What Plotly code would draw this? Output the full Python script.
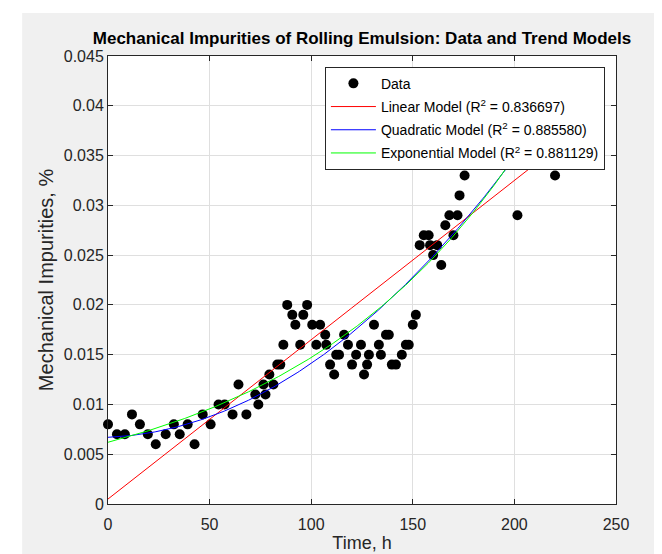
import numpy as np
import plotly.graph_objects as go

# ---- data ----
time_h = [0, 4.4, 8.3, 11.8, 15.7, 19.6, 23.5, 28.4, 32.4, 35.3, 39.2, 42.6, 46.6, 50.5,
          54.4, 57.4, 61.3, 64.2, 68.1, 72.5, 74, 76.5, 77.5, 79.4, 81.4, 83.3, 84.8,
          86.3, 88.2, 90.7, 92.2, 94.6, 96.1, 98, 100.5, 102.5, 104.4, 106.9, 107.4,
          109.3, 111.3, 112.3, 113.7, 116.2, 118.1, 120.1, 122.1, 124.5, 126, 127.5,
          128.4, 130.9, 133.3, 134.3, 136.8, 138.2, 139.7, 141.7, 144.6, 146.6, 148,
          150, 151.5, 153.4, 155.4, 157.8, 158.5, 160, 162, 164, 166, 168, 170, 172,
          173, 175.5, 201.5, 220]
impurities = [0.008, 0.007, 0.007, 0.009, 0.008, 0.007, 0.006, 0.007, 0.008, 0.007,
              0.008, 0.006, 0.009, 0.008, 0.010, 0.010, 0.009, 0.012, 0.009, 0.011,
              0.010, 0.012, 0.011, 0.013, 0.012, 0.014, 0.014, 0.016, 0.020, 0.019,
              0.018, 0.016, 0.019, 0.020, 0.018, 0.016, 0.018, 0.017, 0.016, 0.014,
              0.013, 0.015, 0.015, 0.017, 0.016, 0.014, 0.015, 0.016, 0.013, 0.014,
              0.015, 0.018, 0.016, 0.015, 0.017, 0.017, 0.014, 0.014, 0.015, 0.016,
              0.016, 0.018, 0.019, 0.026, 0.027, 0.027, 0.026, 0.025, 0.026, 0.024,
              0.028, 0.029, 0.027, 0.029, 0.031, 0.033, 0.029, 0.033]

# trend-model coefficients
linear_coef = [0.00016, 0.0005]                 # slope, intercept
quadratic_coef = [6.6e-7, 8.2e-6, 0.0067]       # a2, a1, a0
exponential_coef = [0.0062, 0.00864]            # A, k  in A*exp(k*t)

model_names = ["Linear Model (R<sup>2</sup> = 0.836697)",
               "Quadratic Model (R<sup>2</sup> = 0.885580)",
               "Exponential Model (R<sup>2</sup> = 0.881129)"]
model_colors = ["#ff0000", "#0000ff", "#00ff00"]

x_ticks = [0, 50, 100, 150, 200, 250]
y_ticks = [0, 0.005, 0.01, 0.015, 0.02, 0.025, 0.03, 0.035, 0.04, 0.045]
y_tick_text = ["0", "0.005", "0.01", "0.015", "0.02", "0.025", "0.03", "0.035", "0.04", "0.045"]

grid = np.linspace(0, max(time_h), 300)
curves = [np.polyval(linear_coef, grid),
          np.polyval(quadratic_coef, grid),
          exponential_coef[0] * np.exp(exponential_coef[1] * grid)]

FONT = "Liberation Sans, Arial, sans-serif"
TXT = "#262626"

fig = go.Figure()
fig.add_trace(go.Scatter(x=time_h, y=impurities, mode="markers", name="Data",
                         legendgroup="g0", cliponaxis=False,
                         marker=dict(color="black", size=10)))
for i, (nm, col, cv) in enumerate(zip(model_names, model_colors, curves)):
    fig.add_trace(go.Scatter(x=grid, y=cv, mode="lines", name=nm,
                             legendgroup=f"g{i+1}",
                             line=dict(color=col, width=1)))

axis_common = dict(showline=True, linecolor=TXT, linewidth=1, mirror="ticks",
                   ticks="inside", ticklen=5, tickcolor=TXT,
                   showgrid=True, gridcolor="#dfdfdf", gridwidth=1,
                   zeroline=False, tickfont=dict(family=FONT, size=16, color=TXT))

fig.update_layout(
    width=662, height=554,
    margin=dict(l=100, r=54, t=48, b=56),
    paper_bgcolor="#f0f0f0", plot_bgcolor="white",
    title=dict(text="<b>Mechanical Impurities of Rolling Emulsion: Data and Trend Models</b>",
               x=0.5, xref="paper", xanchor="center", yref="paper", y=1.0,
               yanchor="bottom", pad=dict(b=12),
               font=dict(family=FONT, size=17, color="black")),
    xaxis=dict(range=[0, 250], tickvals=x_ticks, ticklabelstandoff=6,
               title=dict(text="Time, h", standoff=4,
                          font=dict(family=FONT, size=18, color=TXT)),
               **axis_common),
    yaxis=dict(range=[0, 0.045], tickvals=y_ticks, ticktext=y_tick_text,
               title=dict(text="Mechanical Impurities, %", standoff=4,
                          font=dict(family=FONT, size=20, color=TXT)),
               **axis_common),
    legend=dict(x=0.427, y=0.976, xanchor="left", yanchor="top",
                bgcolor="white", bordercolor=TXT, borderwidth=1,
                font=dict(family=FONT, size=14, color="black"),
                tracegroupgap=2, itemwidth=45),
    showlegend=True,
)

# white frame around the grey figure area
for x0, x1, y0, y1 in [(-0.3, -0.169, -0.3, 1.3), (1.0925, 1.3, -0.3, 1.3),
                       (-0.3, 1.3, 1.096, 1.3), (-0.3, 1.3, -0.3, -0.1205)]:
    fig.add_shape(type="rect", xref="paper", yref="paper", x0=x0, x1=x1, y0=y0, y1=y1,
                  fillcolor="white", line=dict(width=0), layer="below")

fig.write_html("out.html")
